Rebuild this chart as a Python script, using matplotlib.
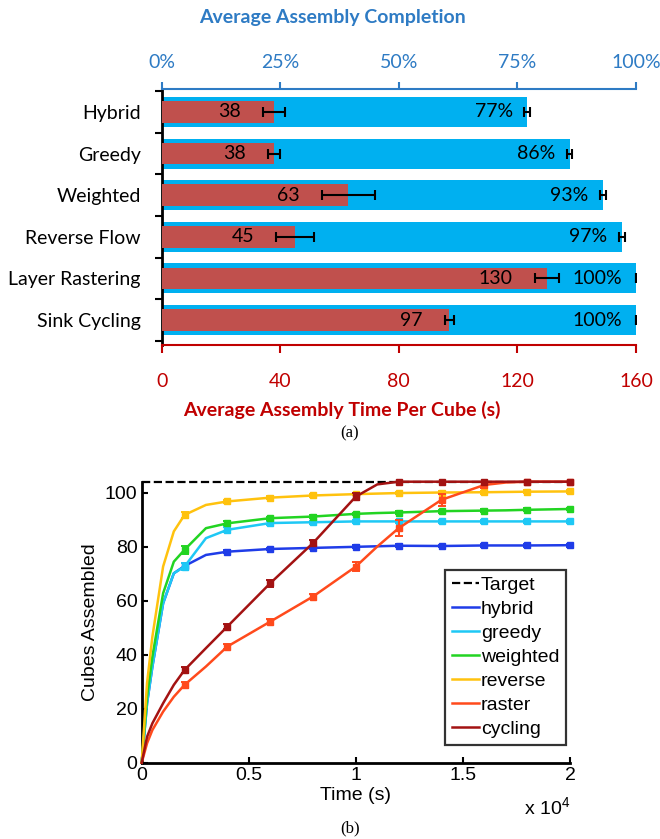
import matplotlib
matplotlib.use('Agg')
import matplotlib.pyplot as plt
import numpy as np

matplotlib.rcParams['mathtext.fontset'] = 'custom'
matplotlib.rcParams['mathtext.rm'] = 'Liberation Sans'

# (a) data
strategies = ['Hybrid', 'Greedy', 'Weighted', 'Reverse Flow', 'Layer Rastering', 'Sink Cycling']
completion = [77, 86, 93, 97, 100, 100]
completion_err = [0.6, 0.6, 0.6, 0.6, 0, 0]
time_per_cube = [38, 38, 63, 45, 130, 97]
time_err = [3.7, 2.0, 9.0, 6.3, 4.1, 1.6]

# (b) data
t = [0, 250, 500, 1000, 1500, 2000, 3000, 4000, 6000, 8000, 10000, 11000, 12000,
     14000, 16000, 17000, 18000, 20000]
hybrid = [0, 22, 35.6, 59, 70.1, 72.8, 76.9, 78.1, 79.1, 79.5, 79.9, 80.1, 80.3,
          80.2, 80.4, 80.4, 80.4, 80.5]
greedy = [0, 22, 35.6, 59, 70.1, 72.6, 83.1, 86.2, 88.7, 89.0, 89.3, 89.3, 89.3,
          89.3, 89.3, 89.3, 89.3, 89.3]
weighted = [0, 24.5, 39.3, 62.7, 74.4, 78.8, 86.8, 88.6, 90.5, 91.1, 92.1, 92.4, 92.6,
            93.1, 93.3, 93.4, 93.6, 93.9]
reverse = [0, 29.5, 46.7, 72.6, 85.6, 91.7, 95.4, 96.7, 98.1, 98.9, 99.4, 99.6, 99.8,
           100.0, 100.1, 100.2, 100.3, 100.4]
raster = [0, 7.2, 12.1, 18.9, 24.4, 28.8, 35.6, 43.0, 52.2, 61.5, 72.6, 80.0, 86.8,
          97.3, 102.8, 103.7, 104, 104]
cycling = [0, 9.6, 14.6, 22.0, 28.8, 34.3, 42.4, 50.4, 66.4, 81.3, 98.5, 103, 104,
           104, 104, 104, 104, 104]
# error bars at t = 2000, 4000, ..., 20000
hybrid_err = [1.2, 0.6, 0.5, 0.5, 0.5, 0.5, 0.5, 0.5, 0.5, 0.5]
greedy_err = [1.2, 1.0, 0.8, 0.6, 0.6, 0.6, 0.6, 0.6, 0.6, 0.6]
weighted_err = [1.5, 0.8, 0.6, 0.5, 0.5, 0.5, 0.5, 0.5, 0.5, 0.5]
reverse_err = [1.2, 0.5, 0.5, 0.5, 0.5, 0.5, 0.5, 0.5, 0.5, 0.5]
raster_err = [1.2, 1.0, 1.0, 1.0, 1.6, 3.0, 2.2, 1.0, 0, 0]
cycling_err = [1.2, 1.0, 1.2, 1.2, 1.2, 0, 0, 0, 0, 0]
target = 104

W, H = 660, 839
fig = plt.figure(figsize=(W / 100, H / 100), dpi=100)

BLUE_BAR = '#00b0f0'
RED_BAR = '#c0504d'
BLUE_TXT = '#2e7bc4'
RED_TXT = '#c00000'
cal = 'Lato'

# ---------- (a) ----------
ax = fig.add_axes([161.7 / W, 1 - 345 / H, (636 - 161.7) / W, (345 - 89) / H])
ax2 = ax.twiny()   # seconds axis (red bars drawn above blue ones)

ypos = np.arange(len(strategies))
ax.barh(ypos, completion, height=0.72, color=BLUE_BAR, zorder=2)
ax.errorbar(completion, ypos, xerr=completion_err, fmt='none', ecolor='black',
            elinewidth=1.5, capsize=3.5, capthick=1.5, zorder=3)
for y, v in zip(ypos, completion):
    ax.text(v - 3, y, f'{v}%', ha='right', va='center', fontsize=14,
            family=cal, color='black', zorder=4)
ax.set_xlim(0, 100)
ax.set_ylim(5.6, -0.55)
ax.xaxis.tick_top()
ax.xaxis.set_label_position('top')
ax.set_xticks([0, 25, 50, 75, 100])
ax.set_xticklabels(['0%', '25%', '50%', '75%', '100%'], family=cal, fontsize=14,
                   color=BLUE_TXT)
ax.tick_params(axis='x', colors=BLUE_TXT, direction='out', length=5, width=1.5, pad=8)
ax.set_yticks(np.arange(-0.5, 6, 1))
ax.set_yticklabels([])
ax.set_yticks(ypos, minor=True)
ax.set_yticklabels(strategies, minor=True, family=cal, fontsize=14)
ax.tick_params(axis='y', which='major', direction='out', length=5, width=1.5)
ax.tick_params(axis='y', which='minor', length=0, pad=15)
for s in ['right', 'bottom']:
    ax.spines[s].set_visible(False)
ax.spines['top'].set_color(BLUE_TXT)
ax.spines['top'].set_linewidth(1.5)
ax.spines['left'].set_linewidth(2)

ax2.barh(ypos, time_per_cube, height=0.52, color=RED_BAR, zorder=2)
ax2.errorbar(time_per_cube, ypos, xerr=time_err, fmt='none', ecolor='black',
             elinewidth=1.5, capsize=3.5, capthick=1.5, zorder=3)
for y, v, e in zip(ypos, time_per_cube, time_err):
    ax2.text(v - e - 7.5, y, f'{v}', ha='right', va='center', fontsize=14,
             family=cal, color='black', zorder=4)
ax2.set_xlim(0, 160)
ax2.xaxis.tick_bottom()
ax2.xaxis.set_label_position('bottom')
ax2.set_xticks([0, 40, 80, 120, 160])
ax2.set_xticklabels(['0', '40', '80', '120', '160'], family=cal, fontsize=14,
                    color=RED_TXT)
ax2.tick_params(axis='x', colors=RED_TXT, direction='out', length=6, width=1.5, pad=14)
for s in ['top', 'right', 'left']:
    ax2.spines[s].set_visible(False)
ax2.spines['bottom'].set_color(RED_TXT)
ax2.spines['bottom'].set_linewidth(1.5)
ax2.set_xlabel('Average Assembly Time Per Cube (s)', family=cal, fontsize=14,
               fontweight='bold', color=RED_TXT, labelpad=8)
ax2.xaxis.label.set_x(0.38)
ax2.set_ylim(ax.get_ylim())

fig.text(332 / W, 1 - 17 / H, 'Average Assembly Completion', ha='center', va='center',
         family=cal, fontsize=14, fontweight='bold', color=BLUE_TXT)
fig.text(350 / W, 1 - 433 / H, '(a)', ha='center', va='center',
         family='Liberation Serif', fontsize=12)

# ---------- (b) ----------
arial = 'Liberation Sans'
bx = fig.add_axes([141.7 / W, 1 - 762.7 / H, (570 - 141.7) / W, 281 / H])
bx.plot([0, 20000], [target, target], '--', color='black', lw=1.6, label='Target',
        clip_on=False, zorder=2)
series = [('hybrid', hybrid, hybrid_err, '#1f3ce8'),
          ('greedy', greedy, greedy_err, '#1ec8f5'),
          ('weighted', weighted, weighted_err, '#22d422'),
          ('reverse', reverse, reverse_err, '#ffc20e'),
          ('raster', raster, raster_err, '#ff4a1c'),
          ('cycling', cycling, cycling_err, '#a31212')]
t_arr = np.array(t)
mark_idx = [i for i, v in enumerate(t) if v > 0 and v % 2000 == 0]
for k, (name, vals, err, c) in enumerate(series):
    z = 3 + k
    bx.plot(t, vals, color=c, lw=1.8, label=name, clip_on=False, zorder=z)
    mt = t_arr[mark_idx]
    mv = np.array(vals)[mark_idx]
    bx.plot(mt, mv, 's', color=c, ms=4, clip_on=False, zorder=z)
    bx.errorbar(mt, mv, yerr=err, fmt='none', ecolor=c, elinewidth=1.4,
                capsize=3, capthick=1.4, clip_on=False, zorder=z)
bx.set_xlim(0, 20000)
bx.set_ylim(0, 104)
bx.set_xticks([0, 5000, 10000, 15000, 20000])
bx.set_xticklabels(['0', '0.5', '1', '1.5', '2'])
bx.set_yticks([0, 20, 40, 60, 80, 100])
for lab in bx.get_xticklabels() + bx.get_yticklabels():
    lab.set_family(arial)
    lab.set_fontsize(14)
bx.tick_params(direction='in', length=4, width=1.5, pad=3)
for s in ['top', 'right']:
    bx.spines[s].set_visible(False)
for s in ['left', 'bottom']:
    bx.spines[s].set_linewidth(2)
bx.set_xlabel('Time (s)', family=arial, fontsize=14, labelpad=2)
bx.set_ylabel('Cubes Assembled', family=arial, fontsize=14, labelpad=4)
bx.text(1.0, -0.16, r'x $10^4$', transform=bx.transAxes, ha='right', va='center',
        family=arial, fontsize=14)
handles, labels = bx.get_legend_handles_labels()
leg = bx.legend(handles, labels, loc='lower left', bbox_to_anchor=(0.708, 0.063),
                prop={'family': arial, 'size': 14}, frameon=True, fancybox=False,
                handlelength=1.4, handletextpad=0.1, labelspacing=0.33,
                borderpad=0.35, borderaxespad=0)
leg.get_frame().set_edgecolor('black')
leg.get_frame().set_linewidth(1.6)

fig.text(350 / W, 1 - 828 / H, '(b)', ha='center', va='center',
         family='Liberation Serif', fontsize=12)

fig.savefig('out.png', dpi=100, facecolor='white')
plt.close(fig)
